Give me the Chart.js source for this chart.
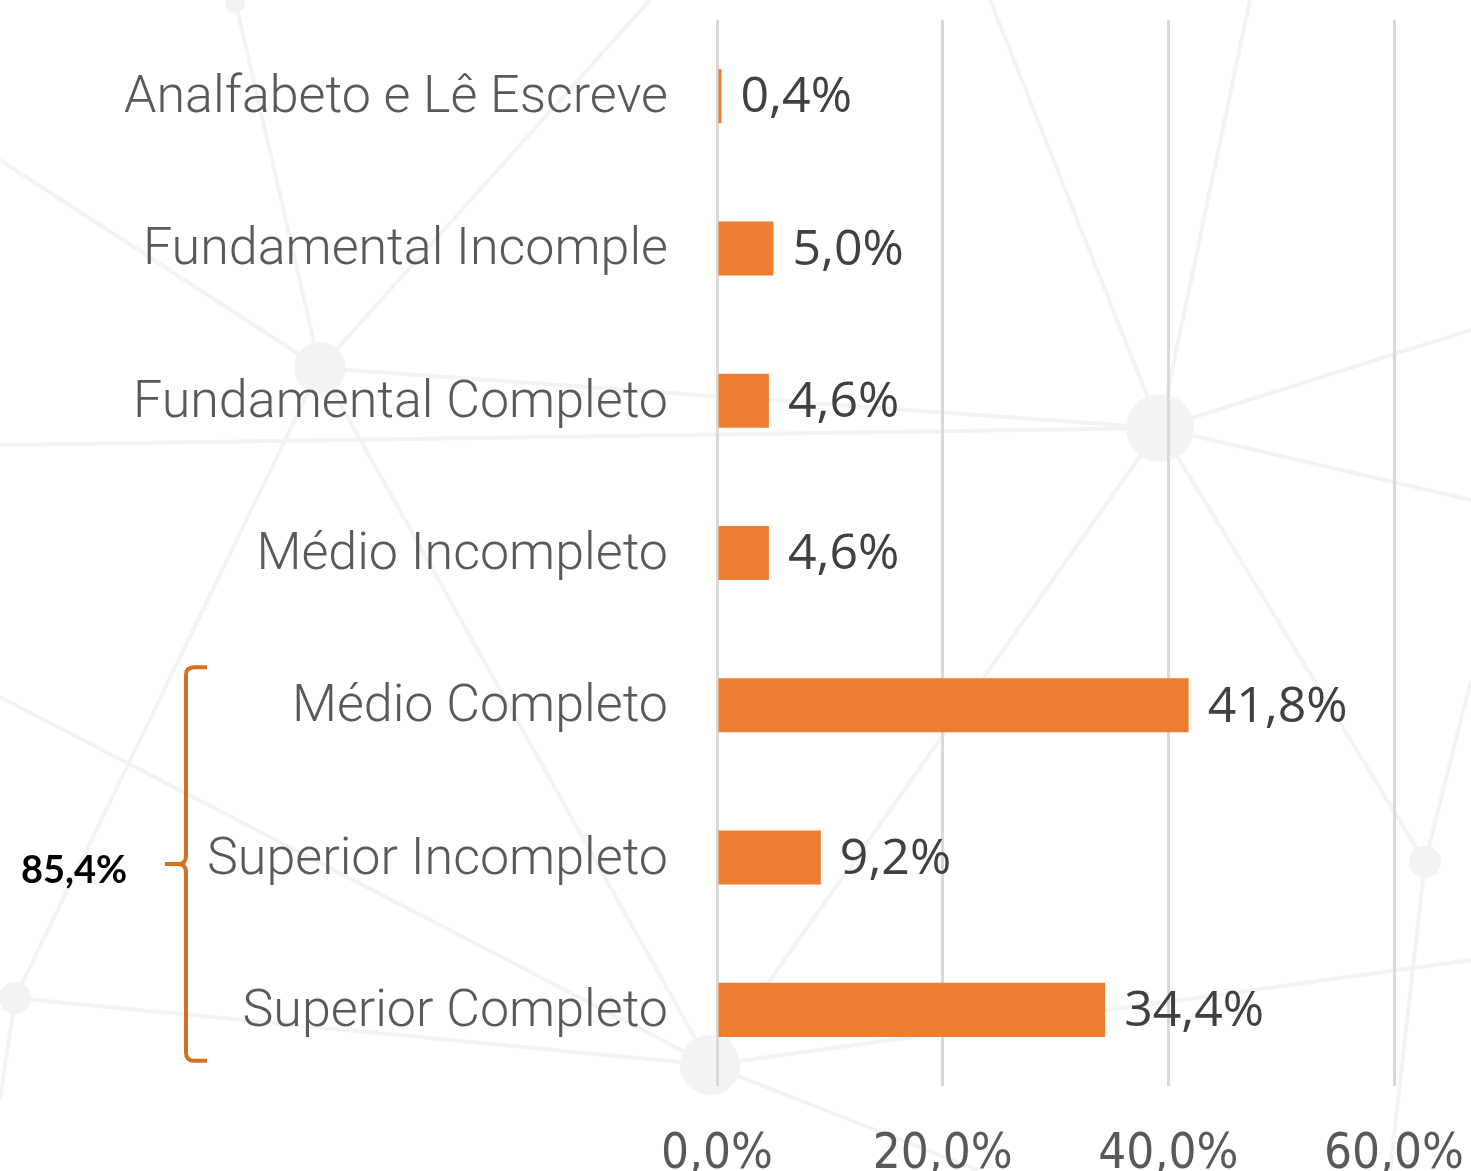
<!DOCTYPE html>
<html>
<head>
<meta charset="utf-8">
<script src="https://cdn.jsdelivr.net/npm/chart.js@4"></script>
<style>
  html, body { margin: 0; padding: 0; background: #ffffff; overflow: hidden; }
  #wrap { position: relative; width: 1471px; height: 1200px; }
</style>
</head>
<body>
<div id="wrap"><canvas id="c" width="1471" height="1200"></canvas></div>
<script>
// ---- data ----
const categories = [
  'Analfabeto e Lê Escreve',
  'Fundamental Incomple',
  'Fundamental Completo',
  'Médio Incompleto',
  'Médio Completo',
  'Superior Incompleto',
  'Superior Completo'
];
const values = [0.4, 5.0, 4.6, 4.6, 41.8, 9.2, 34.4];
const xTicks = [0, 20, 40, 60];
const groupStart = 4;          // first category in the bracket
const groupEnd = 6;            // last category in the bracket
const groupLabel = '85,4%';

const fmt = v => v.toFixed(1).replace('.', ',') + '%';

// faint background network (decoration)
const bgNodes = [[235, 3, 10], [320, 368, 26], [1160, 428, 34], [710, 1065, 30], [15, 998, 16], [1425, 862, 16]];
const bgLines = [
  [235, 0, 320, 368], [320, 368, 710, 1065], [15, 998, 320, 368], [15, 998, 710, 1065],
  [0, 697, 710, 1065], [0, 445, 1160, 428], [320, 368, 1160, 428], [0, 160, 320, 368],
  [1160, 428, 990, 0], [1160, 428, 1471, 330], [1160, 428, 1471, 500], [1160, 428, 1425, 862],
  [1160, 428, 710, 1065], [710, 1065, 1471, 960], [1425, 862, 1471, 680], [1425, 862, 1390, 1171],
  [320, 368, 650, 0], [1160, 428, 1250, 0], [710, 1065, 980, 1171], [0, 1100, 15, 998]
];

const bgPlugin = {
  id: 'bg',
  beforeDraw(chart) {
    const ctx = chart.ctx;
    ctx.save();
    ctx.strokeStyle = '#f3f3f3';
    ctx.lineWidth = 4;
    bgLines.forEach(l => { ctx.beginPath(); ctx.moveTo(l[0], l[1]); ctx.lineTo(l[2], l[3]); ctx.stroke(); });
    ctx.fillStyle = '#f3f3f3';
    bgNodes.forEach(n => { ctx.beginPath(); ctx.arc(n[0], n[1], n[2], 0, Math.PI * 2); ctx.fill(); });
    ctx.restore();
  }
};

const labelPlugin = {
  id: 'valueLabels',
  afterDatasetsDraw(chart) {
    const ctx = chart.ctx;
    const meta = chart.getDatasetMeta(0);
    ctx.save();
    ctx.font = '50px "Open Sans"';
    ctx.fillStyle = '#404040';
    ctx.textAlign = 'left';
    ctx.textBaseline = 'middle';
    meta.data.forEach((bar, i) => {
      ctx.fillText(fmt(values[i]), bar.x + 19, bar.y + 2);
    });

    // bracket
    const ys = chart.scales.y;
    const step = ys.getPixelForValue(1) - ys.getPixelForValue(0);
    const top = ys.getPixelForValue(groupStart) - step * 0.25;
    const bot = ys.getPixelForValue(groupEnd) + step * 0.335;
    const mid = (top + bot) / 2;
    const bx = 186;
    ctx.strokeStyle = '#D4711C';
    ctx.lineWidth = 4;
    ctx.lineCap = 'butt';
    ctx.beginPath();
    ctx.moveTo(207, top);
    ctx.lineTo(bx + 8, top);
    ctx.quadraticCurveTo(bx, top, bx, top + 8);
    ctx.lineTo(bx, mid - 8);
    ctx.quadraticCurveTo(bx, mid, bx - 8, mid);
    ctx.lineTo(165, mid);
    ctx.moveTo(bx - 8, mid);
    ctx.quadraticCurveTo(bx, mid, bx, mid + 8);
    ctx.lineTo(bx, bot - 8);
    ctx.quadraticCurveTo(bx, bot, bx + 8, bot);
    ctx.lineTo(207, bot);
    ctx.stroke();

    ctx.font = 'bold 38px Lato';
    ctx.fillStyle = '#000000';
    ctx.textAlign = 'left';
    ctx.textBaseline = 'alphabetic';
    ctx.fillText(groupLabel, 21, mid + 19);
    ctx.restore();
  }
};

new Chart(document.getElementById('c'), {
  type: 'bar',
  data: {
    labels: categories,
    datasets: [{
      data: values,
      backgroundColor: '#ED7D31',
      borderWidth: 0,
      barPercentage: 0.355,
      categoryPercentage: 1.0
    }]
  },
  options: {
    indexAxis: 'y',
    responsive: false,
    animation: false,
    layout: { padding: { top: 20, right: 77, left: 0, bottom: 0 } },
    plugins: { legend: { display: false }, tooltip: { enabled: false } },
    scales: {
      x: {
        min: 0, max: 60,
        afterBuildTicks(scale) { scale.ticks = xTicks.map(v => ({ value: v })); },
        afterFit(scale) { scale.height = 114; },
        grid: { color: '#d9d9d9', lineWidth: 3, drawTicks: true, tickLength: 40, tickColor: 'rgba(0,0,0,0)' },
        border: { display: false },
        ticks: {
          padding: 0,
          color: '#595959',
          font: { family: '"Liberation Sans Narrow", "DejaVu Sans Condensed", sans-serif', size: 49 },
          callback: v => fmt(v)
        }
      },
      y: {
        afterFit(scale) { scale.width = 717; },
        grid: { display: false, drawTicks: true, tickLength: 49 },
        border: { display: false },
        ticks: {
          padding: 0,
          labelOffset: 3,
          color: '#595959',
          font: { family: 'Roboto', size: 52, weight: 300, lineHeight: 0.5 }
        }
      }
    }
  },
  plugins: [bgPlugin, labelPlugin]
});
</script>
</body>
</html>
